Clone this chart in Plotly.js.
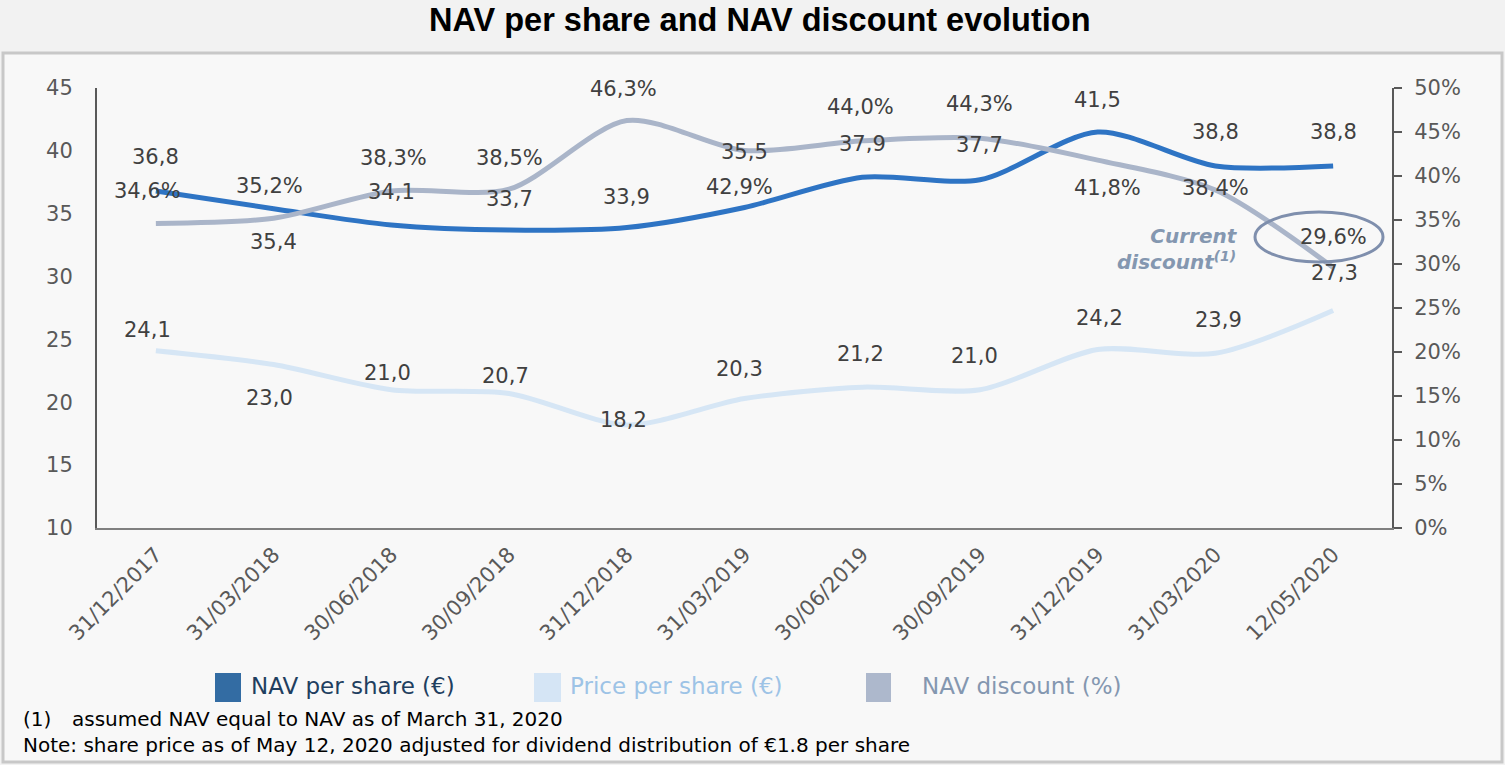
<!DOCTYPE html>
<html>
<head>
<meta charset="utf-8">
<script src="https://cdn.plot.ly/plotly-3.0.1.min.js"></script>
<style>html,body{margin:0;padding:0;background:#f2f2f2;}#chart{width:1505px;height:765px;}</style>
</head>
<body>
<div id="chart"></div>
<script>
const categories = ["31/12/2017","31/03/2018","30/06/2018","30/09/2018","31/12/2018","31/03/2019","30/06/2019","30/09/2019","31/12/2019","31/03/2020","12/05/2020"];
const navPerShare = [36.8,35.4,34.1,33.7,33.9,35.5,37.9,37.7,41.5,38.8,38.8];
const pricePerShare = [24.1,23.0,21.0,20.7,18.2,20.3,21.2,21.0,24.2,23.9,27.3];
const navDiscount = [34.6,35.2,38.3,38.5,46.3,42.9,44.0,44.3,41.8,38.4,29.6];
const leftTicks = [10,15,20,25,30,35,40,45];
const rightTicks = [0,5,10,15,20,25,30,35,40,45,50];

// label offsets (pixels) – presentation only
const navShift = [34,-33,33,31,31,55,33,35,32,34,34];
const priceShift = [21,-33,17,17,5,30,33,34,31,33,38];
const discShift = [33,32,33,31,32,-37,34,34,-28,2,31];
const discX = [-8,-4,2,0,-3,-5,-2,0,10,0,0];
const priceX = [-8,-4,-4,-4,-3,-5,-2,-5,2,3,1];

const FONT = "'DejaVu Sans', sans-serif";
const fmt = (v, d) => v.toFixed(d).replace('.', ',');

const traces = [
  {x: categories, y: pricePerShare, type:'scatter', mode:'lines', name:'Price per share (€)',
   line:{color:'#d6e6f5', width:5, shape:'spline', smoothing:0.8}, yaxis:'y', hoverinfo:'x+y'},
  {x: categories, y: navDiscount, type:'scatter', mode:'lines', name:'NAV discount (%)',
   line:{color:'#aab5c9', width:5, shape:'spline', smoothing:0.8}, yaxis:'y2', hoverinfo:'x+y'},
  {x: categories, y: navPerShare, type:'scatter', mode:'lines', name:'NAV per share (€)',
   line:{color:'#2e74c4', width:5, shape:'spline', smoothing:0.8}, yaxis:'y', hoverinfo:'x+y'}
];

const annotations = [];
const labelFont = {family: FONT, size: 21, color: '#404040'};
categories.forEach((c, i) => {
  annotations.push({x:c, y:navPerShare[i], xref:'x', yref:'y', text:fmt(navPerShare[i],1), showarrow:false, yanchor:'middle', yshift:navShift[i], font:labelFont});
  annotations.push({x:c, y:pricePerShare[i], xref:'x', yref:'y', text:fmt(pricePerShare[i],1), showarrow:false, yanchor:'middle', yshift:priceShift[i], xshift:priceX[i], font:labelFont});
  annotations.push({x:c, y:navDiscount[i], xref:'x', yref:'y2', text:fmt(navDiscount[i],1)+'%', showarrow:false, yanchor:'middle', yshift:discShift[i], xshift:discX[i], font:labelFont});
});

// paper coordinate helpers: plot area 97..1392 x, 88..528 y
const px = v => (v - 97) / 1295;
const py = v => (528 - v) / 440;

annotations.push({xref:'paper', yref:'paper', x:px(760), y:py(20), xanchor:'center', yanchor:'middle', text:'<b>NAV per share and NAV discount evolution</b>', showarrow:false,
  font:{family:"'Liberation Sans', Arial, sans-serif", size:32.5, color:'#000'}});
annotations.push({xref:'paper', yref:'paper', x:px(1240), y:py(249), xanchor:'right', yanchor:'middle', align:'right', text:'<b><i>Current<br>discount<sup>(1)</sup></i></b>', showarrow:false,
  font:{family:FONT, size:20, color:'#8497b0'}});

// legend
const legendItems = [
  {sq0:215, sq1:241, tx:249, color:'#336ca3', tcolor:'#1f3f60', text:'NAV per share (€)'},
  {sq0:534, sq1:561, tx:568, color:'#d5e5f5', tcolor:'#9dc3e6', text:'Price per share (€)'},
  {sq0:866, sq1:891, tx:920, color:'#adb8cc', tcolor:'#8497b0', text:'NAV discount (%)'}
];
const shapes = [
  {type:'rect', xref:'paper', yref:'paper', x0:px(3), x1:px(1502), y0:py(762), y1:py(53), fillcolor:'#f8f8f8', line:{color:'#c8c8c8', width:3}, layer:'below'},
  {type:'circle', xref:'paper', yref:'paper', x0:px(1255), x1:px(1383), y0:py(262), y1:py(212), line:{color:'#7f8fad', width:3}, fillcolor:'rgba(0,0,0,0)'}
];
legendItems.forEach(it => {
  shapes.push({type:'rect', xref:'paper', yref:'paper', x0:px(it.sq0), x1:px(it.sq1), y0:py(702), y1:py(673), fillcolor:it.color, line:{width:0}});
  annotations.push({xref:'paper', yref:'paper', x:px(it.tx), y:py(686), xanchor:'left', yanchor:'middle', text:it.text, showarrow:false, font:{family:FONT, size:23, color:it.tcolor}});
});

// footnotes
const noteFont = {family:FONT, size:20, color:'#000'};
annotations.push({xref:'paper', yref:'paper', x:px(21), y:py(719), xanchor:'left', yanchor:'middle', text:'(1)', showarrow:false, font:noteFont});
annotations.push({xref:'paper', yref:'paper', x:px(70), y:py(719), xanchor:'left', yanchor:'middle', text:'assumed NAV equal to NAV as of March 31, 2020', showarrow:false, font:noteFont});
annotations.push({xref:'paper', yref:'paper', x:px(21), y:py(745), xanchor:'left', yanchor:'middle', text:'Note: share price as of May 12, 2020 adjusted for dividend distribution of €1.8 per share', showarrow:false, font:noteFont});

const tickFont = {family: FONT, size: 21, color: '#595959'};
const layout = {
  width:1505, height:765,
  margin:{l:97, r:113, t:88, b:237},
  paper_bgcolor:'#f2f2f2', plot_bgcolor:'rgba(0,0,0,0)',
  showlegend:false,
  xaxis:{type:'category', categoryarray:categories, range:[-0.5,10.5], tickangle:-45, showline:true, linecolor:'#808080', linewidth:2,
    ticks:'', showgrid:false, zeroline:false, tickfont:{family:FONT, size:21, color:'#595959'}, ticklabelstandoff:4, fixedrange:true},
  yaxis:{range:[10,45], tickvals:leftTicks, ticktext:leftTicks.map(String), showline:true, linecolor:'#595959', linewidth:2, ticks:'',
    ticklabelstandoff:18, showgrid:false, zeroline:false, tickfont:tickFont},
  yaxis2:{range:[0,50], tickvals:rightTicks, ticktext:rightTicks.map(v=>v+'%'), overlaying:'y', side:'right', showline:true, linecolor:'#595959', linewidth:2,
    ticks:'outside', ticklen:8, tickwidth:2, tickcolor:'#595959', showgrid:false, zeroline:false, tickfont:tickFont, ticklabelstandoff:8},
  annotations: annotations,
  shapes: shapes
};
Plotly.newPlot('chart', traces, layout, {displayModeBar:false, staticPlot:true});
</script>
</body>
</html>
